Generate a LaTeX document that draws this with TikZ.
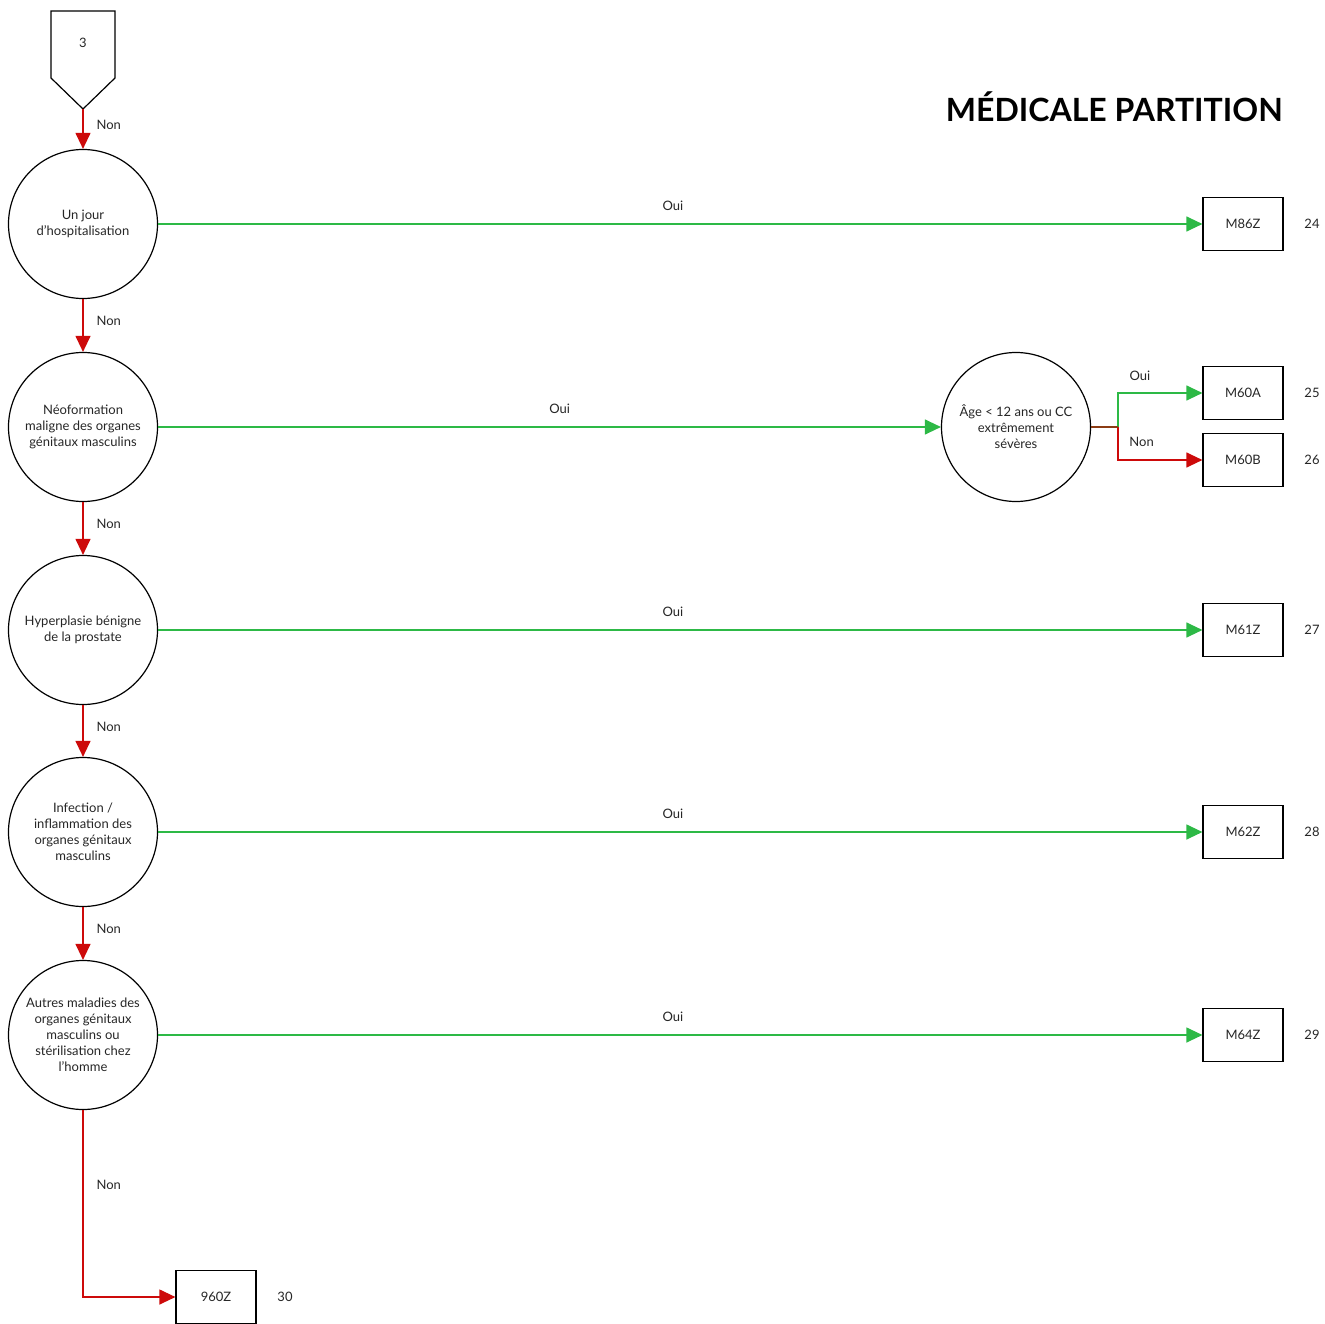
\documentclass[tikz,border=0pt]{standalone}
\usepackage{fontspec}
\setmainfont{Lato}
\usetikzlibrary{arrows.meta}
\definecolor{gr}{RGB}{45,185,70}
\definecolor{rd}{RGB}{205,10,10}
\begin{document}
\begin{tikzpicture}[x=1pt,y=-1pt,
  every node/.style={font=\fontsize{13}{16}\selectfont, text=black!85},
  dec/.style={circle,draw=black,line width=1.2pt,minimum size=149pt,inner sep=0pt,align=center,
    execute at begin node={\rule{0pt}{16pt}}},
  leaf/.style={draw=black,line width=1.2pt,minimum width=80pt,minimum height=53pt,inner sep=0pt},
  yes/.style={draw=gr,line width=1.2pt,-{Triangle[length=16pt,width=15pt,fill=gr]}},
  no/.style={draw=rd,line width=1.2pt,-{Triangle[length=16pt,width=15pt,fill=rd]}},
  lblv/.style={anchor=west,inner sep=0pt,xshift=13pt},
  lblh/.style={anchor=center,inner sep=0pt,yshift=18pt},
  num/.style={anchor=center,inner sep=0pt}
]
\useasboundingbox (0,0) rectangle (1325,1324);
% title
\node[anchor=base east,inner sep=0pt,font=\fontsize{32}{36}\selectfont\bfseries,text=black] (title) at (1283,122) {MÉDICALE PARTITION};
% entry pentagon
\draw[line width=1.2pt] (51,11) -- (115,11) -- (115,78) -- (83,109) -- (51,78) -- cycle;
\node (p3) at (83,43) {3};
\coordinate (p3tip) at (83,109);
% decisions
\node[dec] (c1) at (83,224) {Un jour\\d'hospitalisation};
\node[dec] (c2) at (83,427) {Néoformation\\maligne des organes\\génitaux masculins};
\node[dec] (c3) at (83,630) {Hyperplasie bénigne\\de la prostate};
\node[dec] (c4) at (83,832) {Infection /\\inflammation des\\organes génitaux\\masculins};
\node[dec] (c5) at (83,1035) {Autres maladies des\\organes génitaux\\masculins ou\\stérilisation chez\\l'homme};
\node[dec] (age) at (1016,427) {Âge < 12 ans ou CC\\extrêmement\\sévères};
% leaves
\node[leaf] (m86z) at (1243,224) {M86Z};
\node[leaf] (m60a) at (1243,393) {M60A};
\node[leaf] (m60b) at (1243,460) {M60B};
\node[leaf] (m61z) at (1243,630) {M61Z};
\node[leaf] (m62z) at (1243,832) {M62Z};
\node[leaf] (m64z) at (1243,1035) {M64Z};
\node[leaf] (z960) at (216,1297) {960Z};
% numbers
\node[num] (n24) at (1312,224) {24};
\node[num] (n25) at (1312,393) {25};
\node[num] (n26) at (1312,460) {26};
\node[num] (n27) at (1312,630) {27};
\node[num] (n28) at (1312,832) {28};
\node[num] (n29) at (1312,1035) {29};
\node[num] (n30) at (285,1297) {30};
% Non chain
\draw[no] (p3tip) -- (c1.north) node[lblv,pos=0.4] {Non};
\draw[no] (c1.south) -- (c2.north) node[lblv,pos=0.42] {Non};
\draw[no] (c2.south) -- (c3.north) node[lblv,pos=0.42] {Non};
\draw[no] (c3.south) -- (c4.north) node[lblv,pos=0.42] {Non};
\draw[no] (c4.south) -- (c5.north) node[lblv,pos=0.42] {Non};
\draw[no] (c5.south) |- (z960.west) node[lblv,pos=0.2] {Non};
% Oui
\draw[yes] (c1.east) -- (m86z.west) node[lblh,pos=0.493] {Oui};
\draw[yes] (c2.east) -- (age.west) node[lblh,pos=0.513] {Oui};
\draw[yes] (c3.east) -- (m61z.west) node[lblh,pos=0.493] {Oui};
\draw[yes] (c4.east) -- (m62z.west) node[lblh,pos=0.493] {Oui};
\draw[yes] (c5.east) -- (m64z.west) node[lblh,pos=0.493] {Oui};
% age split
\coordinate (j) at (1118,427);
\draw[yes] (j) |- (m60a.west) node[lblh,pos=0.63,yshift=-1pt] {Oui};
\draw[no] (j) |- (m60b.west) node[lblh,pos=0.64] {Non};
\draw[draw={rgb,255:red,140;green,60;blue,20},line width=1.2pt] (age.east) -- (j);
\end{tikzpicture}
\end{document}
